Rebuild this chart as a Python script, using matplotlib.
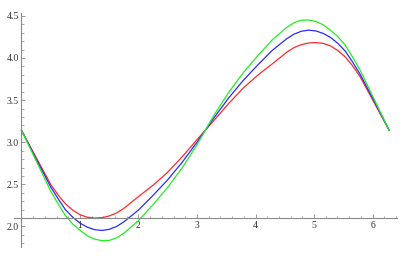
import matplotlib
matplotlib.use("Agg")
from matplotlib import pyplot as plt
from matplotlib.ticker import MultipleLocator

# values (denser near the turning points)
x_vals = [0.0, 0.25, 0.5, 0.625, 0.75, 0.875, 1.0, 1.125, 1.25, 1.375, 1.5, 1.625, 1.75,
          2.0, 2.25, 2.5, 2.75, 3.0, 3.1416, 3.283, 3.533, 3.783, 4.033, 4.283, 4.533,
          4.658, 4.783, 4.908, 5.033, 5.158, 5.283, 5.408, 5.533, 5.658, 5.783, 6.033,
          6.2832]

red_vals = [3.142, 2.82, 2.50, 2.375, 2.27, 2.195, 2.14, 2.11, 2.10, 2.105, 2.125, 2.16,
            2.215, 2.355, 2.49, 2.645, 2.83, 3.03, 3.142, 3.253, 3.453, 3.638, 3.793,
            3.928, 4.068, 4.123, 4.158, 4.178, 4.183, 4.173, 4.143, 4.088, 4.013, 3.908,
            3.783, 3.463, 3.142]

blue_vals = [3.142, 2.80, 2.47, 2.33, 2.20, 2.11, 2.04, 1.992, 1.962, 1.953, 1.966, 2.0,
             2.055, 2.195, 2.37, 2.555, 2.765, 3.0, 3.142, 3.283, 3.518, 3.728, 3.913,
             4.088, 4.228, 4.283, 4.317, 4.330, 4.321, 4.291, 4.243, 4.173, 4.083, 3.953,
             3.813, 3.483, 3.142]

green_vals = [3.142, 2.78, 2.42, 2.27, 2.13, 2.03, 1.955, 1.89, 1.85, 1.832, 1.835, 1.865,
              1.92, 2.07, 2.26, 2.465, 2.70, 2.97, 3.142, 3.313, 3.583, 3.818, 4.023,
              4.213, 4.363, 4.418, 4.448, 4.451, 4.433, 4.393, 4.328, 4.253, 4.153, 4.013,
              3.863, 3.503, 3.142]

x_ticks = [1, 2, 3, 4, 5, 6]
y_ticks = [2.0, 2.5, 3.0, 3.5, 4.0, 4.5]

fig = plt.figure(figsize=(4.1, 2.56), dpi=100)
ax = fig.add_axes([0.0344, 0.0363, 0.9327, 0.9117])

for vals, col in [(red_vals, "#ff2a2a"), (blue_vals, "#2a2aff"), (green_vals, "#22ee22")]:
    ax.plot(x_vals, vals, color=col, lw=0.9, solid_joinstyle="round")

ax.set_xlim(-0.126, 6.41)
ax.set_ylim(1.76, 4.53)

# axes cross at (0, 2.1) like the original
for side in ["top", "right"]:
    ax.spines[side].set_visible(False)
ax.spines["left"].set_position(("data", 0))
ax.spines["bottom"].set_position(("data", 2.1))
for side in ["left", "bottom"]:
    ax.spines[side].set_color("#8a8a8a")
    ax.spines[side].set_linewidth(0.8)

ax.set_xticks(x_ticks)
ax.set_yticks(y_ticks)
ax.set_xticklabels([str(t) for t in x_ticks])
ax.set_yticklabels([f"{t:.1f}" for t in y_ticks])
ax.xaxis.set_minor_locator(MultipleLocator(0.2))
ax.yaxis.set_minor_locator(MultipleLocator(0.1))

ax.tick_params(which="major", direction="in", length=3.2, width=0.6, color="#8a8a8a",
               labelsize=7, labelcolor="#333333", pad=2)
ax.tick_params(which="minor", direction="in", length=1.8, width=0.5, color="#8a8a8a")
for lab in ax.get_xticklabels() + ax.get_yticklabels():
    lab.set_fontfamily("Liberation Serif")

plt.savefig("out.png", dpi=100)
plt.close("all")
